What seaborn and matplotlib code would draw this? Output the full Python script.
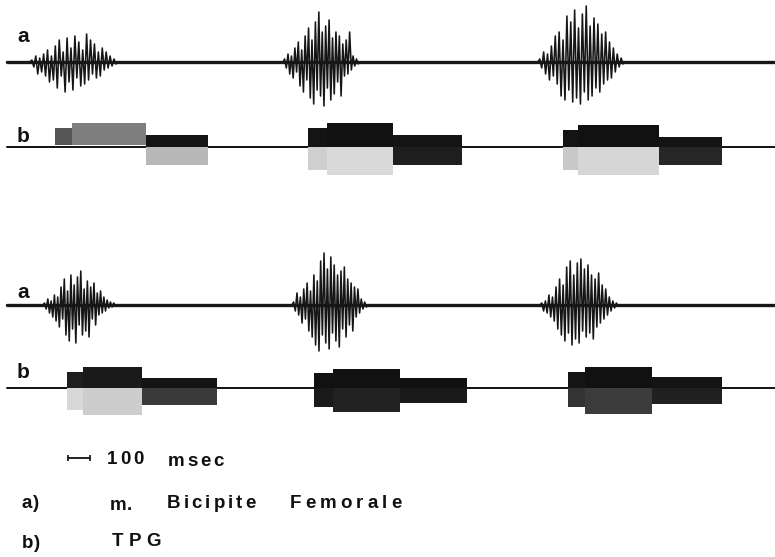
import numpy as np
import pandas as pd
import seaborn as sns
import matplotlib.pyplot as plt

# tempi in ms, ampiezze in unita' arbitrarie
t_inizio = 30
t_fine = 3523

# EMG m. bicipite femorale (a) - inizio/fine burst e picchi alternati
emg1_burst = [(136, 536), (1286, 1636), (2445, 2841)]
emg1_amp = [
    [2, -5, 6, -12, 4, -10, 8, -14, 12, -20, 6, -18, 16, -26, 22, -14, 10, -30, 24, -20, 14, -28,
     26, -16, 20, -24, 12, -22, 28, -18, 22, -12, 18, -16, 10, -14, 14, -8, 10, -6, 6, -4, 3, -2],
    [3, -6, 8, -12, 6, -16, 14, -10, 20, -24, 12, -30, 26, -18, 34, -36, 22, -42, 40, -28, 50, -34,
     30, -44, 36, -26, 42, -38, 24, -32, 30, -20, 26, -34, 18, -14, 22, -12, 30, -8, 6, -4, 3, -2],
    [3, -6, 10, -12, 8, -18, 16, -14, 26, -22, 30, -34, 22, -38, 46, -28, 40, -40, 52, -36, 34, -42,
     48, -30, 56, -38, 36, -34, 44, -26, 38, -30, 28, -22, 30, -18, 20, -16, 14, -10, 8, -5, 4, -2],
]
emg2_burst = [(195, 532), (1327, 1673), (2455, 2818)]
emg2_amp = [
    [2, -4, 6, -8, 4, -12, 10, -16, 8, -22, 18, -14, 26, -30, 14, -36, 30, -24, 20, -38, 28, -20,
     34, -30, 16, -26, 24, -32, 18, -14, 22, -20, 12, -10, 14, -8, 8, -6, 5, -3, 3, -2, 2, -1],
    [3, -6, 12, -10, 8, -18, 16, -14, 22, -26, 14, -32, 30, -40, 24, -46, 44, -30, 52, -38, 36, -44,
     48, -28, 40, -36, 30, -42, 34, -24, 38, -32, 26, -20, 22, -26, 18, -12, 16, -8, 6, -4, 3, -2],
    [2, -6, 4, -8, 10, -12, 8, -16, 18, -24, 26, -30, 20, -36, 38, -28, 44, -40, 30, -34, 42, -38,
     46, -26, 36, -32, 40, -28, 30, -34, 26, -22, 32, -18, 20, -14, 16, -10, 8, -6, 4, -3, 2, -1],
]

# TPG (b) - blocchi: inizio, fine, bordo alto, bordo basso
tpg1_inizio = [250, 327, 664, 1400, 1486, 1786, 2559, 2627, 2995]
tpg1_fine = [327, 664, 945, 1486, 1786, 2100, 2627, 2995, 3282]
tpg1_alto = [19, 24, 12, 19, 24, 12, 17, 22, 10]
tpg1_basso = [2, 2, -18, -23, -28, -18, -23, -28, -18]

tpg2_inizio = [305, 377, 645, 1427, 1514, 1818, 2582, 2659, 2964]
tpg2_fine = [377, 645, 986, 1514, 1818, 2123, 2659, 2964, 3282]
tpg2_alto = [16, 21, 10, 15, 19, 10, 16, 21, 11]
tpg2_basso = [-22, -27, -17, -19, -24, -15, -19, -26, -16]

# toni di grigio della stampa (sopra / sotto la linea di base)
tpg1_sopra = ['#555555', '#7e7e7e', '#141414', '#141414', '#111111', '#141414', '#141414', '#111111', '#141414']
tpg1_sotto = ['#9a9a9a', '#9a9a9a', '#b8b8b8', '#cfcfcf', '#d9d9d9', '#1e1e1e', '#c8c8c8', '#d6d6d6', '#262626']
tpg2_sopra = ['#1e1e1e', '#1a1a1a', '#141414', '#111111', '#111111', '#111111', '#141414', '#111111', '#141414']
tpg2_sotto = ['#d8d8d8', '#cdcdcd', '#3a3a3a', '#1a1a1a', '#222222', '#1a1a1a', '#333333', '#3c3c3c', '#202020']

# posizione verticale delle tracce
off_emg1, off_tpg1, off_emg2, off_tpg2 = 62, 147, 305, 388

sns.set_style('white')
fam = ['Liberation Sans', 'DejaVu Sans']
plt.rcParams['font.family'] = fam

fig = plt.figure(figsize=(7.75, 5.57), dpi=100)
ax = fig.add_axes([0, 0, 1, 1])
ax.set_xlim(0, t_fine)
ax.set_ylim(557, 0)
ax.axis('off')


def traccia_emg(burst, amp, off):
    tt = [t_inizio]
    vv = [0]
    for (a, b), valori in zip(burst, amp):
        xs = np.linspace(a, b, len(valori) + 2)
        tt += list(xs)
        vv += [0] + valori + [0]
    tt.append(t_fine)
    vv.append(0)
    df = pd.DataFrame({'t': tt, 'v': vv})
    df['y'] = off - df['v']
    # linea di base spessa (rumore) e poi il segnale
    ax.plot([t_inizio, t_fine], [off, off], color='#1a1a1a', lw=2.4, zorder=2)
    sns.lineplot(data=df, x='t', y='y', ax=ax, color='#161616', lw=1.15,
                 estimator=None, sort=False, zorder=3)


def traccia_tpg(inizio, fine, alto, basso, sopra, sotto, off):
    ax.plot([t_inizio, t_fine], [off, off], color='#111111', lw=1.4, zorder=2)
    for s, e, hi, lo, c1, c2 in zip(inizio, fine, alto, basso, sopra, sotto):
        lo_sup = max(lo, 0)
        ax.bar(s, hi - lo_sup, width=e - s, bottom=off - hi, align='edge',
               color=c1, linewidth=0, zorder=3)
        if lo < 0:
            ax.bar(s, -lo, width=e - s, bottom=off, align='edge',
                   color=c2, linewidth=0, zorder=3)


traccia_emg(emg1_burst, emg1_amp, off_emg1)
traccia_tpg(tpg1_inizio, tpg1_fine, tpg1_alto, tpg1_basso, tpg1_sopra, tpg1_sotto, off_tpg1)
traccia_emg(emg2_burst, emg2_amp, off_emg2)
traccia_tpg(tpg2_inizio, tpg2_fine, tpg2_alto, tpg2_basso, tpg2_sopra, tpg2_sotto, off_tpg2)

# barra di scala 100 msec
ax.plot([309, 409], [458, 458], color='#111111', lw=1.3, marker='|', ms=4, mew=1.2)

# testi (coordinate in pixel)
ax2 = fig.add_axes([0, 0, 1, 1])
ax2.set_xlim(0, 775)
ax2.set_ylim(557, 0)
ax2.axis('off')
ax2.patch.set_alpha(0)
rend = fig.canvas.get_renderer()


def scrivi(x, y, s, spazio, size=13.5):
    for ch in s:
        t = ax2.text(x, y, ch, fontsize=size, fontweight='bold', ha='left',
                     va='center', color='#111111', family=fam)
        x += t.get_window_extent(rend).width + spazio


for lab, y in [('a', 36), ('b', 136), ('a', 292), ('b', 372)]:
    ax2.text(17, y, lab, fontsize=15, fontweight='bold', ha='left', va='center',
             color='#111111', family=fam)

scrivi(107, 459, '100', 2.5)
scrivi(168, 461, 'msec', 2.5)
scrivi(22, 504, 'a)', 0.5)
scrivi(110, 505, 'm.', 0.5)
scrivi(167, 503, 'Bicipite', 3)
scrivi(290, 503, 'Femorale', 4)
scrivi(22, 543, 'b)', 0.5)
scrivi(112, 542, 'TPG', 5)

plt.savefig('out.png', dpi=100)
